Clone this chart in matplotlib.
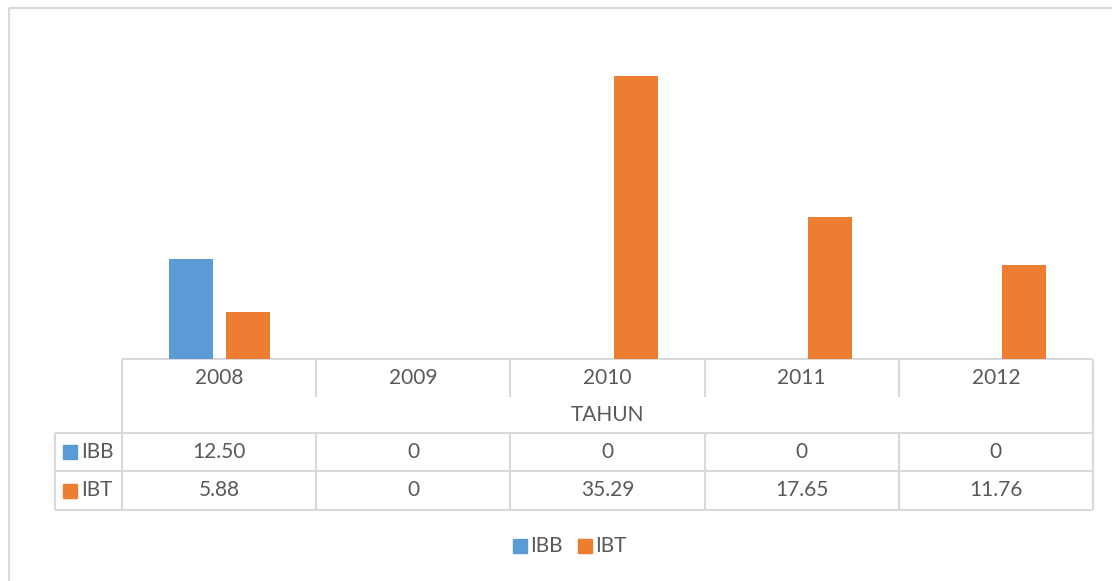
import matplotlib
matplotlib.use("Agg")
import matplotlib.pyplot as plt
from matplotlib.patches import Rectangle

years = ["2008", "2009", "2010", "2011", "2012"]
series_names = ["IBB", "IBT"]
ibb = [12.50, 0, 0, 0, 0]
ibt = [5.88, 0, 35.29, 17.65, 11.76]
axis_title = "TAHUN"

colors = {"IBB": "#5b9bd5", "IBT": "#ed7d31"}
grid_c = "#d9d9d9"
text_c = "#595959"
FONT = "Lato"

W, H = 1112, 581
fig = plt.figure(figsize=(W / 100, H / 100), dpi=100)

def fx(x): return x / W
def fy(y): return 1 - y / H

L, R, T, B = 122, 1093, 38, 359
ax = fig.add_axes([fx(L), fy(B), fx(R) - fx(L), fy(T) - fy(B)])
n = len(years)
xs = list(range(n))
bw = 0.227
off = 0.147
ax.bar([x - off for x in xs], ibb, width=bw, color=colors["IBB"], label="IBB")
ax.bar([x + off for x in xs], ibt, width=bw, color=colors["IBT"], label="IBT")
ax.set_xlim(-0.5, n - 0.5)
ax.set_ylim(0, 40)
ax.axis("off")

ov = fig.add_axes([0, 0, 1, 1], zorder=-1)
ov.set_xlim(0, W)
ov.set_ylim(H, 0)
ov.axis("off")

lw = 1.5
def hl(y, x0, x1):
    ov.plot([x0, x1], [y, y], color=grid_c, lw=lw, solid_capstyle="butt")
def vl(x, y0, y1):
    ov.plot([x, x], [y0, y1], color=grid_c, lw=lw, solid_capstyle="butt")

hl(8, 9, W)
vl(9, 8, H)

LL = 55
y_head, y_tahun, y_r1, y_r2, y_end = 359, 397, 433, 471, 510
colw = (R - L) / n
hl(y_head, L, R)
hl(y_r1, LL, R)
hl(y_r2, LL, R)
hl(y_end, LL, R)
vl(L, y_head, y_end)
vl(R, y_head, y_end)
vl(LL, y_r1, y_end)
for i in range(1, n):
    x = L + i * colw
    vl(x, y_head, y_tahun)
    vl(x, y_r1, y_end)

fs = 15
for i, yr in enumerate(years):
    cx = L + (i + 0.5) * colw
    ov.text(cx, (y_head + y_tahun) / 2, yr, ha="center", va="center",
            fontsize=fs, color=text_c, family=FONT)
ov.text((L + R) / 2, (y_tahun + y_r1) / 2, axis_title, ha="center", va="center",
        fontsize=fs, color=text_c, family=FONT)

def fmt(v):
    return "0" if v == 0 else f"{v:.2f}"

for name, vals, (y0, y1) in [("IBB", ibb, (y_r1, y_r2)), ("IBT", ibt, (y_r2, y_end))]:
    cy = (y0 + y1) / 2
    ov.add_patch(Rectangle((63, cy - 7), 14, 14, color=colors[name]))
    ov.text(81, cy, name, ha="left", va="center", fontsize=fs, color=text_c, family=FONT)
    for i, v in enumerate(vals):
        cx = L + (i + 0.5) * colw
        ov.text(cx, cy, fmt(v), ha="center", va="center", fontsize=fs,
                color=text_c, family=FONT)

ly = 546
ov.add_patch(Rectangle((513, ly - 7), 14, 14, color=colors["IBB"]))
ov.text(530, ly, "IBB", ha="left", va="center", fontsize=fs, color=text_c, family=FONT)
ov.add_patch(Rectangle((578, ly - 7), 14, 14, color=colors["IBT"]))
ov.text(595, ly, "IBT", ha="left", va="center", fontsize=fs, color=text_c, family=FONT)

fig.savefig("out.png", dpi=100)
